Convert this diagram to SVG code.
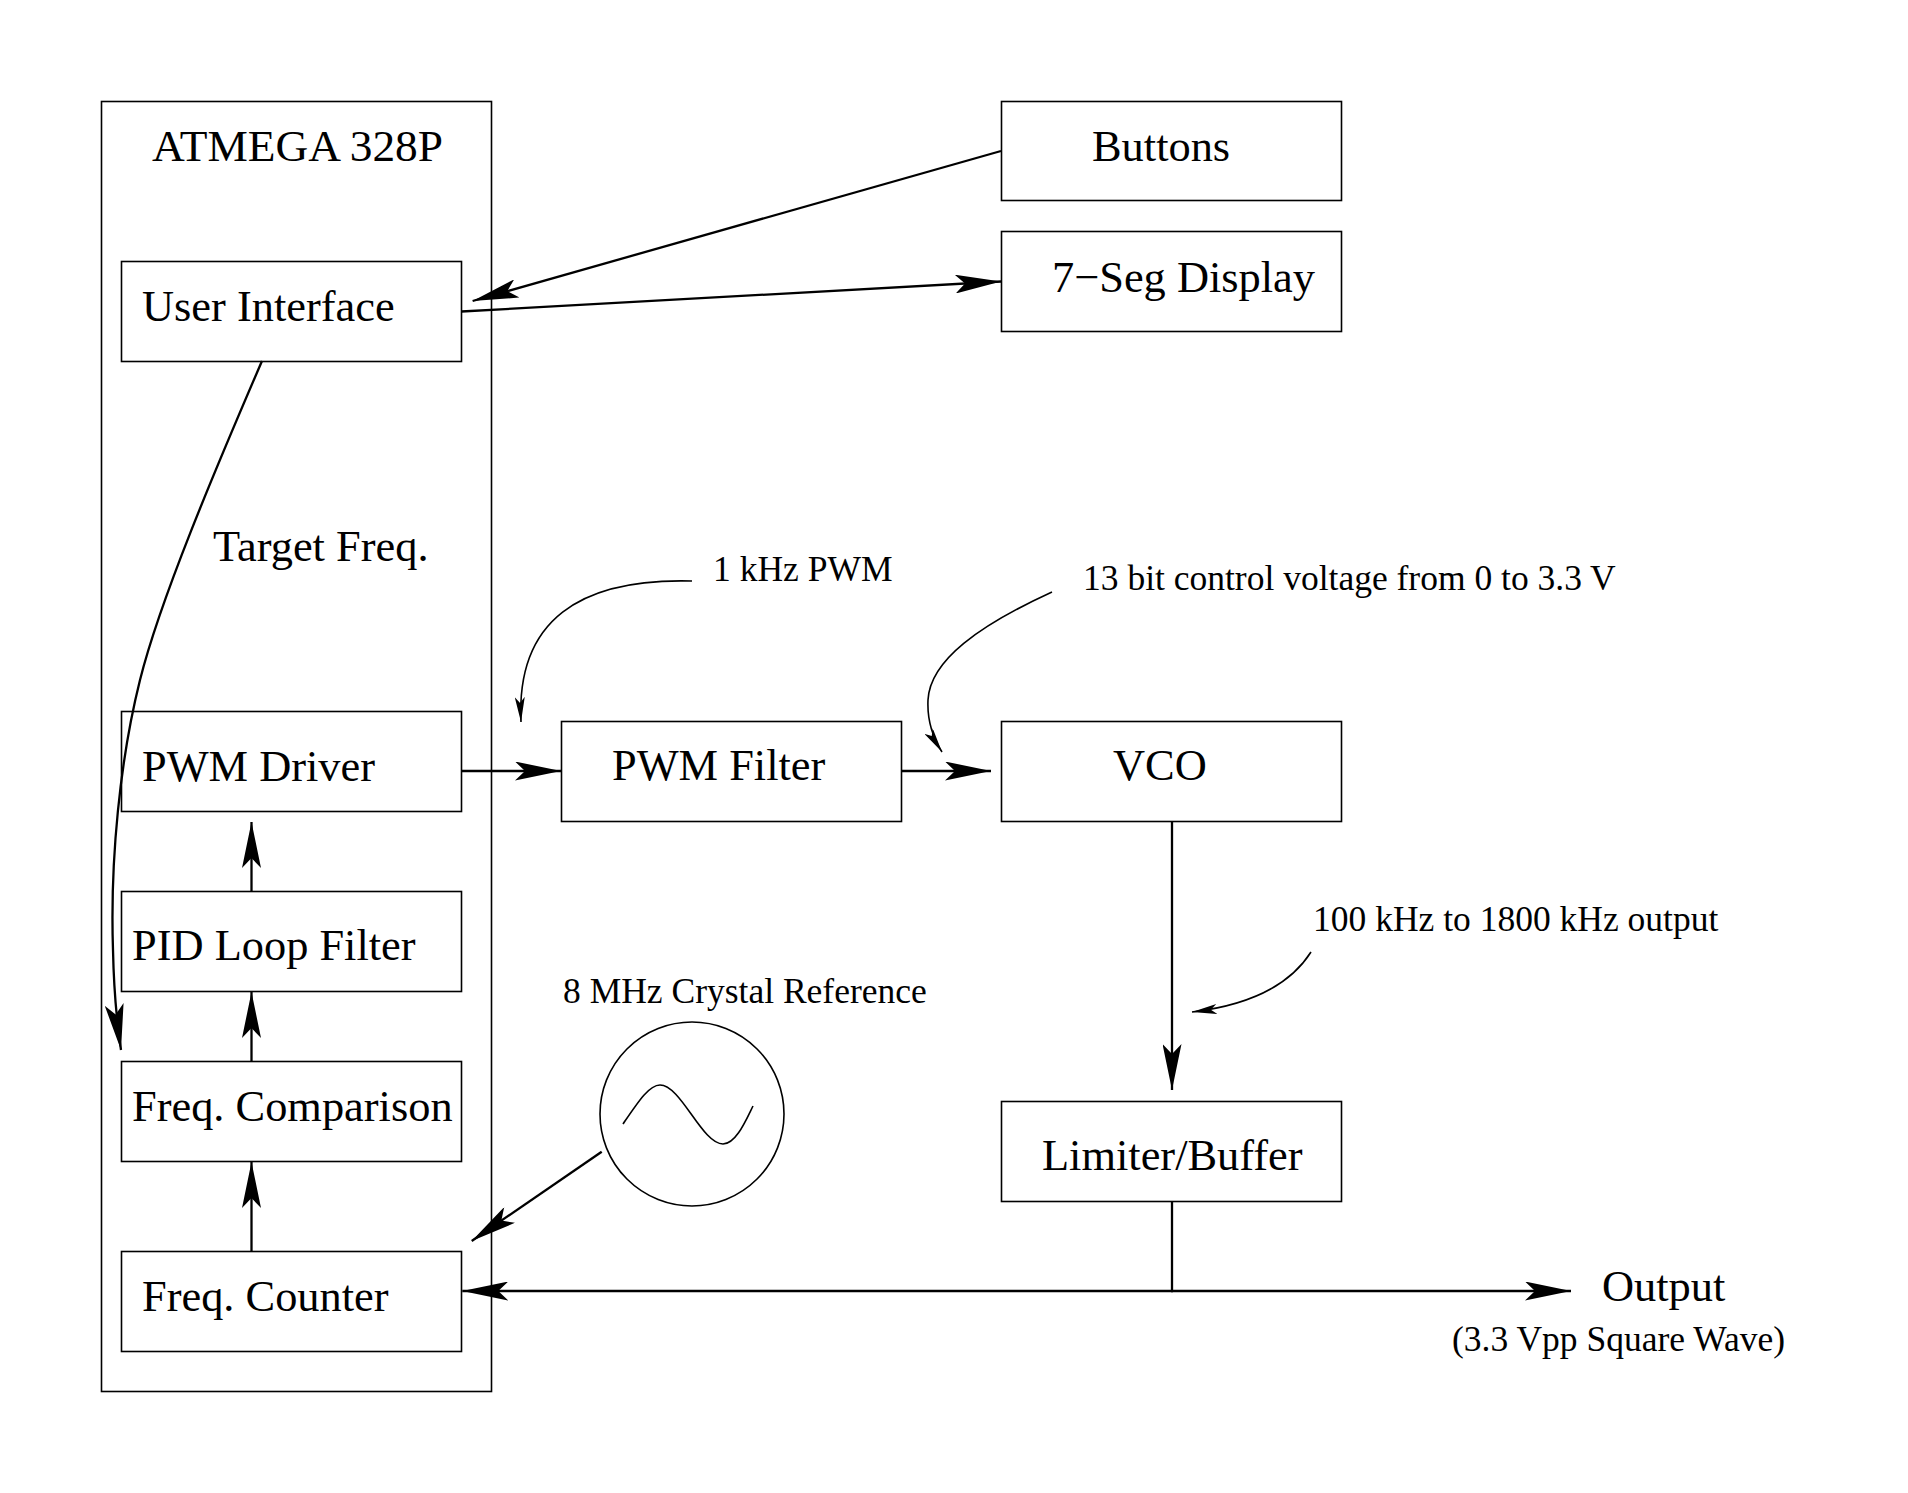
<svg xmlns="http://www.w3.org/2000/svg" width="1908" height="1493" viewBox="0 0 1908 1493">
<defs>
<style>
.box{fill:none;stroke:#000;stroke-width:1.6}
.t{font-family:"Liberation Serif","Times New Roman",serif;fill:#000}
.big{font-size:44.4px}
.small{font-size:35.5px}
.c{fill:none;stroke:#000;stroke-width:2.3}
.a{fill:none;stroke:#000;stroke-width:1.6}
</style>
<marker id="ah" markerUnits="userSpaceOnUse" markerWidth="46" markerHeight="19" refX="46" refY="9.5" orient="auto" viewBox="0 0 46 19">
<path d="M46,9.5 L0,0 L10,9.5 L0,19 Z" fill="#000"/>
</marker>
<marker id="as" markerUnits="userSpaceOnUse" markerWidth="25" markerHeight="10" refX="25" refY="5" orient="auto" viewBox="0 0 25 10">
<path d="M25,5 L0,0 L6,5 L0,10 Z" fill="#000"/>
</marker>
</defs>
<rect width="1908" height="1493" fill="#fff"/>

<g id="atmega">
<rect class="box" x="101.5" y="101.5" width="390" height="1290"/>
<text class="t big" x="152" y="161" textLength="291" lengthAdjust="spacingAndGlyphs">ATMEGA 328P</text>
</g>
<g id="user-interface">
<rect class="box" x="121.5" y="261.5" width="340" height="100"/>
<text class="t big" x="142" y="321">User Interface</text>
</g>
<g id="pwm-driver">
<rect class="box" x="121.5" y="711.5" width="340" height="100"/>
<text class="t big" x="142" y="781">PWM Driver</text>
</g>
<g id="pid-loop-filter">
<rect class="box" x="121.5" y="891.5" width="340" height="100"/>
<text class="t big" x="132" y="960">PID Loop Filter</text>
</g>
<g id="freq-comparison">
<rect class="box" x="121.5" y="1061.5" width="340" height="100"/>
<text class="t big" x="132" y="1121">Freq. Comparison</text>
</g>
<g id="freq-counter">
<rect class="box" x="121.5" y="1251.5" width="340" height="100"/>
<text class="t big" x="142" y="1311">Freq. Counter</text>
</g>
<g id="buttons">
<rect class="box" x="1001.5" y="101.5" width="340" height="99"/>
<text class="t big" x="1092" y="161">Buttons</text>
</g>
<g id="seven-seg">
<rect class="box" x="1001.5" y="231.5" width="340" height="100"/>
<text class="t big" x="1052" y="292">7−Seg Display</text>
</g>
<g id="pwm-filter">
<rect class="box" x="561.5" y="721.5" width="340" height="100"/>
<text class="t big" x="612" y="780">PWM Filter</text>
</g>
<g id="vco">
<rect class="box" x="1001.5" y="721.5" width="340" height="100"/>
<text class="t big" x="1113" y="780">VCO</text>
</g>
<g id="limiter-buffer">
<rect class="box" x="1001.5" y="1101.5" width="340" height="100"/>
<text class="t big" x="1042" y="1170">Limiter/Buffer</text>
</g>
<g id="crystal">
<circle class="box" cx="692" cy="1114" r="92"/>
<path class="a" stroke-width="2" d="M623,1124 C638,1102 649,1085 660,1085 C681,1085 702,1144 723,1144 C736,1144 746,1120 753,1106"/>
<text class="t small" x="563" y="1003">8 MHz Crystal Reference</text>
</g>
<g id="output">
<text class="t big" x="1602" y="1301">Output</text>
<text class="t small" x="1452" y="1351">(3.3 Vpp Square Wave)</text>
</g>
<g id="labels">
<text class="t big" x="213" y="561">Target Freq.</text>
<text class="t small" x="713" y="581">1 kHz PWM</text>
<text class="t small" x="1083" y="590">13 bit control voltage from 0 to 3.3 V</text>
<text class="t small" x="1313" y="931">100 kHz to 1800 kHz output</text>
</g>

<g id="connectors">
<line class="c" x1="1001" y1="151" x2="472.6" y2="301" marker-end="url(#ah)"/>
<line class="c" x1="461.5" y1="311.5" x2="1001" y2="281.5" marker-end="url(#ah)"/>
<path class="c" d="M262,361 C215,470 160,600 140,680 C120,760 110,860 113,950 C114,1000 118,1030 121,1050" marker-end="url(#ah)"/>
<line class="c" x1="251.5" y1="891.5" x2="251.5" y2="822" marker-end="url(#ah)"/>
<line class="c" x1="251.5" y1="1061.5" x2="251.5" y2="992" marker-end="url(#ah)"/>
<line class="c" x1="251.5" y1="1251.5" x2="251.5" y2="1162" marker-end="url(#ah)"/>
<line class="c" x1="461.5" y1="771" x2="561" y2="771" marker-end="url(#ah)"/>
<line class="c" x1="901.5" y1="771" x2="991" y2="771" marker-end="url(#ah)"/>
<line class="c" x1="1172" y1="821.5" x2="1172" y2="1090" marker-end="url(#ah)"/>
<line class="c" x1="1172" y1="1201.5" x2="1172" y2="1291"/>
<line class="c" x1="1171" y1="1291" x2="1571" y2="1291" marker-end="url(#ah)"/>
<line class="c" x1="1173" y1="1291" x2="462.3" y2="1291" marker-end="url(#ah)"/>
<line class="c" x1="601.7" y1="1151.7" x2="471.7" y2="1241" marker-end="url(#ah)"/>
<path class="a" d="M692,581 C580,578 516,620 521,722" marker-end="url(#as)"/>
<path class="a" d="M1052,592 C980,625 930,660 928,700 C927,722 933,738 942,752" marker-end="url(#as)"/>
<path class="a" d="M1311,952 C1290,985 1250,1005 1192,1012" marker-end="url(#as)"/>
</g>
</svg>
